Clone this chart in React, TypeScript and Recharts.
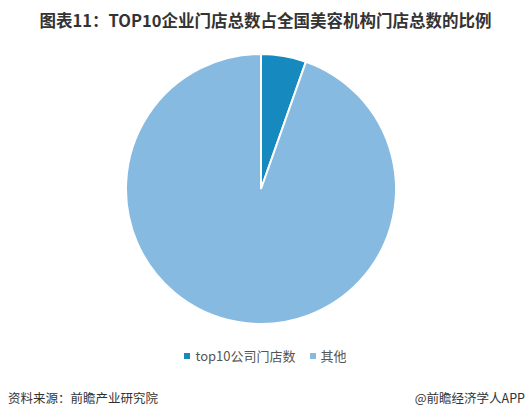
import React from "react";
import { PieChart, Pie, Cell, Legend } from "recharts";

const categories = ["top10公司门店数", "其他"];
const values = [5.4, 94.6];
const colors = ["#1689BE", "#86BAE0"];
const title = "图表11：TOP10企业门店总数占全国美容机构门店总数的比例";
const sourceText = "资料来源：前瞻产业研究院";
const brandText = "@前瞻经济学人APP";

const data = categories.map((name, i) => ({ name, value: values[i] }));

const font = '"Noto Sans CJK SC", "Microsoft YaHei", sans-serif';

const renderLegend = () => (
  <div style={{ display: "flex", justifyContent: "center", alignItems: "center", fontFamily: font, fontSize: 13, color: "#555" }}>
    {categories.map((c, i) => (
      <div key={c} style={{ display: "flex", alignItems: "center", marginRight: i === 0 ? 14 : 0 }}>
        <span style={{ display: "inline-block", width: 6, height: 6, background: colors[i], marginRight: 5 }} />
        <span>{c}</span>
      </div>
    ))}
  </div>
);

export default function App() {
  return (
    <div style={{ position: "absolute", left: 0, top: 0, width: 531, height: 418, background: "#fff", fontFamily: font }}>
      <div style={{ position: "absolute", left: 0, top: 8, width: 531, textAlign: "center", fontSize: 16.5, fontWeight: "bold", color: "#333", lineHeight: "24px" }}>
        {title}
      </div>
      <PieChart width={531} height={418} margin={{ top: 0, right: 0, bottom: 0, left: 0 }}>
        <Pie
          data={data}
          dataKey="value"
          nameKey="name"
          cx={261}
          cy={189}
          outerRadius={135}
          startAngle={90}
          endAngle={-270}
          stroke="#fff"
          strokeWidth={2}
          isAnimationActive={false}
        >
          {data.map((d, i) => (
            <Cell key={d.name} fill={colors[i]} />
          ))}
        </Pie>
        <Legend content={renderLegend} wrapperStyle={{ position: "absolute", top: 346, left: 0, width: 531 }} />
      </PieChart>
      <div style={{ position: "absolute", left: 8, top: 388, fontSize: 12.5, color: "#333" }}>{sourceText}</div>
      <div style={{ position: "absolute", right: 6, top: 388, fontSize: 12.5, color: "#333" }}>{brandText}</div>
    </div>
  );
}
